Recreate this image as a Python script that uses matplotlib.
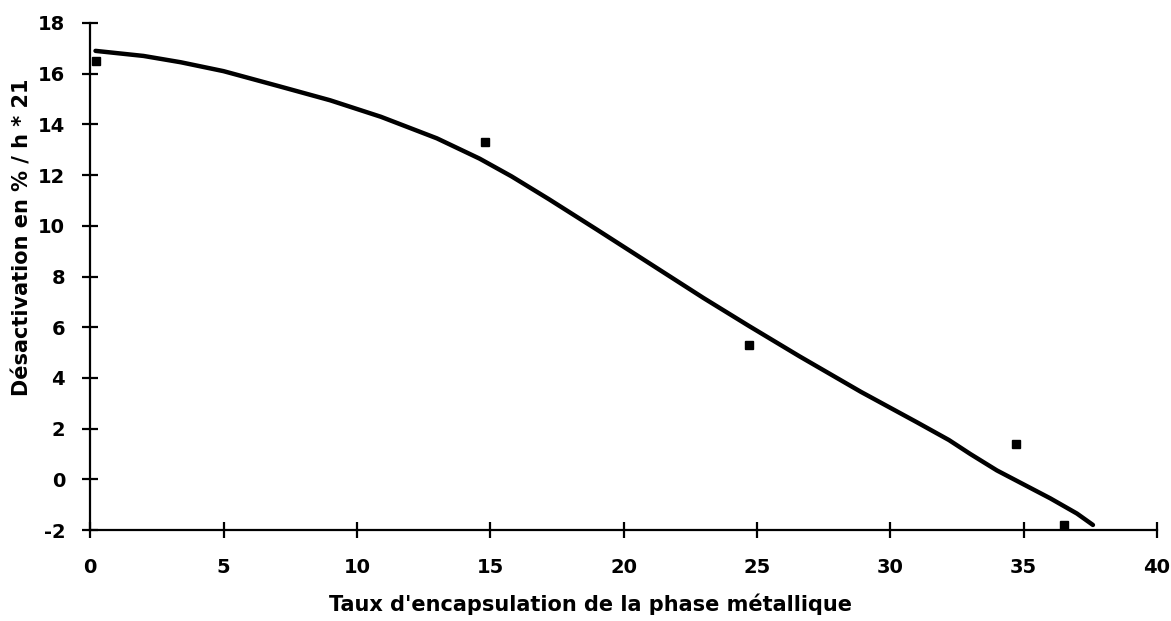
import matplotlib
matplotlib.use("Agg")
import matplotlib.pyplot as plt

plt.rcParams["axes.unicode_minus"] = False

# mesures
x_points = [0.2, 14.8, 24.7, 34.7, 36.5]
y_points = [16.5, 13.3, 5.3, 1.4, -1.8]

# courbe lissee
x_curve = [0.2, 2, 3.4, 5, 7.1, 9, 10.9, 13, 14.6, 15.8, 17.2, 19, 21, 23,
           24.7, 26.6, 28.9, 31, 32.2, 33, 34, 35, 36, 37, 37.6]
y_curve = [16.9, 16.7, 16.45, 16.1, 15.5, 14.95, 14.3, 13.45, 12.65, 11.95,
           11.05, 9.85, 8.5, 7.15, 6.05, 4.85, 3.45, 2.25, 1.55, 1.0, 0.35,
           -0.2, -0.75, -1.35, -1.8]

x_ticks = [0, 5, 10, 15, 20, 25, 30, 35, 40]
y_ticks = [-2, 0, 2, 4, 6, 8, 10, 12, 14, 16, 18]

fig = plt.figure(figsize=(11.71, 6.21), dpi=100)
ax = fig.add_axes([0.077, 0.1465, 0.911, 0.8165])

ax.plot(x_curve, y_curve, color="black", linewidth=3.2,
        solid_capstyle="round", solid_joinstyle="round")
ax.plot(x_points, y_points, linestyle="none", marker="s", markersize=5.5,
        color="black")

ax.set_xlim(0, 40)
ax.set_ylim(-2, 18)
ax.set_xticks(x_ticks)
ax.set_yticks(y_ticks)
ax.spines["top"].set_visible(False)
ax.spines["right"].set_visible(False)
ax.spines["left"].set_linewidth(1.6)
ax.spines["bottom"].set_linewidth(1.6)
ax.tick_params(direction="inout", length=12, width=1.6, labelsize=14)
ax.tick_params(axis="x", pad=14)
ax.tick_params(axis="y", pad=12)
for lab in ax.get_xticklabels() + ax.get_yticklabels():
    lab.set_fontweight("bold")

ax.set_xlabel("Taux d'encapsulation de la phase métallique", fontsize=15,
              fontweight="bold")
ax.set_ylabel("Désactivation en % / h * 21", fontsize=15, fontweight="bold")
ax.xaxis.set_label_coords(0.469, -0.125)
ax.yaxis.set_label_coords(-0.054, 0.578)

fig.savefig("out.png", dpi=100)
